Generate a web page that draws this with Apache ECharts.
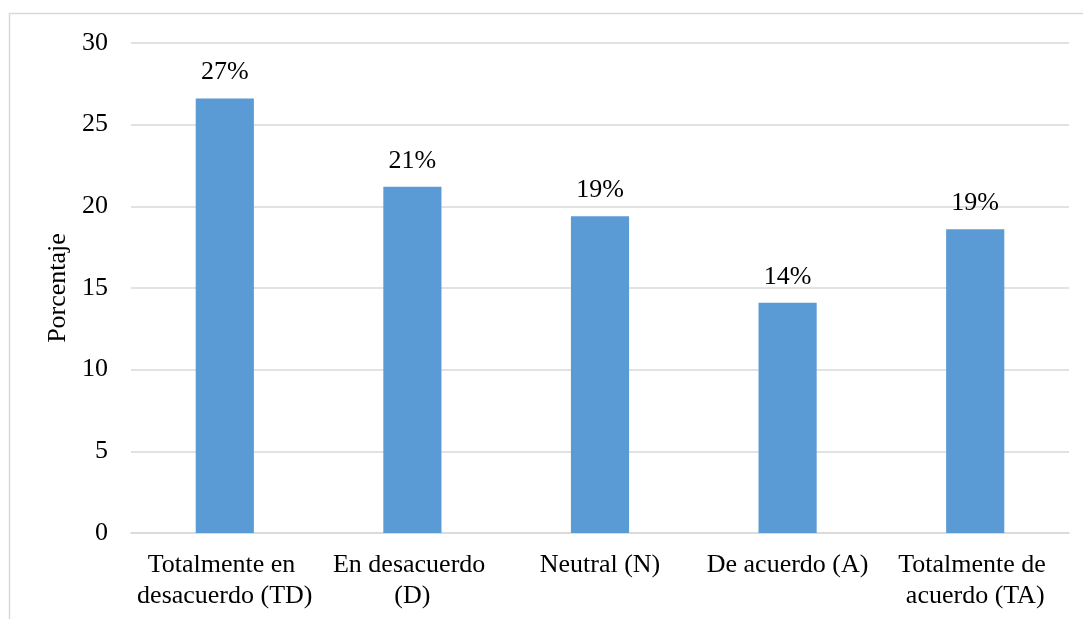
<!DOCTYPE html>
<html>
<head>
<meta charset="utf-8">
<script src="https://cdn.jsdelivr.net/npm/echarts@6/dist/echarts.min.js"></script>
<style>html,body{margin:0;padding:0;background:#fff}#c{width:1083px;height:619px}</style>
</head>
<body>
<div id="c"></div>
<script>
var categories = ['Totalmente en desacuerdo (TD)', 'En desacuerdo (D)', 'Neutral (N)', 'De acuerdo (A)', 'Totalmente de acuerdo (TA)'];
var values = [26.6, 21.2, 19.4, 14.1, 18.6];
var valueLabels = ['27%', '21%', '19%', '14%', '19%'];
var yAxisName = 'Porcentaje';

var font = 'Liberation Serif';
var chart = echarts.init(document.getElementById('c'));
chart.setOption({
  animation: false,
  backgroundColor: '#fff',
  graphic: [{
    type: 'rect',
    shape: {x: 9.5, y: 13.5, width: 1200, height: 800},
    style: {fill: 'none', stroke: '#d9d9d9', lineWidth: 1.5},
    silent: true
  }],
  grid: {left: 131, right: 14, top: 43, bottom: 86, containLabel: false},
  xAxis: {
    type: 'category',
    data: categories,
    axisLine: {show: true, lineStyle: {color: '#d9d9d9', width: 1.5}},
    axisTick: {show: false},
    axisLabel: {
      interval: 0, color: '#000', fontFamily: font, fontSize: 26,
      lineHeight: 31, width: 182, overflow: 'break', margin: 17
    }
  },
  yAxis: {
    type: 'value', min: 0, max: 30, interval: 5,
    name: yAxisName, nameLocation: 'middle', nameGap: 58, nameRotate: 90,
    nameTextStyle: {color: '#000', fontFamily: font, fontSize: 26},
    axisLine: {show: false}, axisTick: {show: false},
    axisLabel: {color: '#000', fontFamily: font, fontSize: 26, margin: 23},
    splitLine: {lineStyle: {color: '#d9d9d9', width: 1.5}}
  },
  series: [{
    type: 'bar',
    data: values,
    barWidth: '31%',
    itemStyle: {color: '#5b9bd5'},
    label: {
      show: true, position: 'top', distance: 13,
      color: '#000', fontFamily: font, fontSize: 26,
      formatter: function (p) { return valueLabels[p.dataIndex]; }
    }
  }]
});
</script>
</body>
</html>
